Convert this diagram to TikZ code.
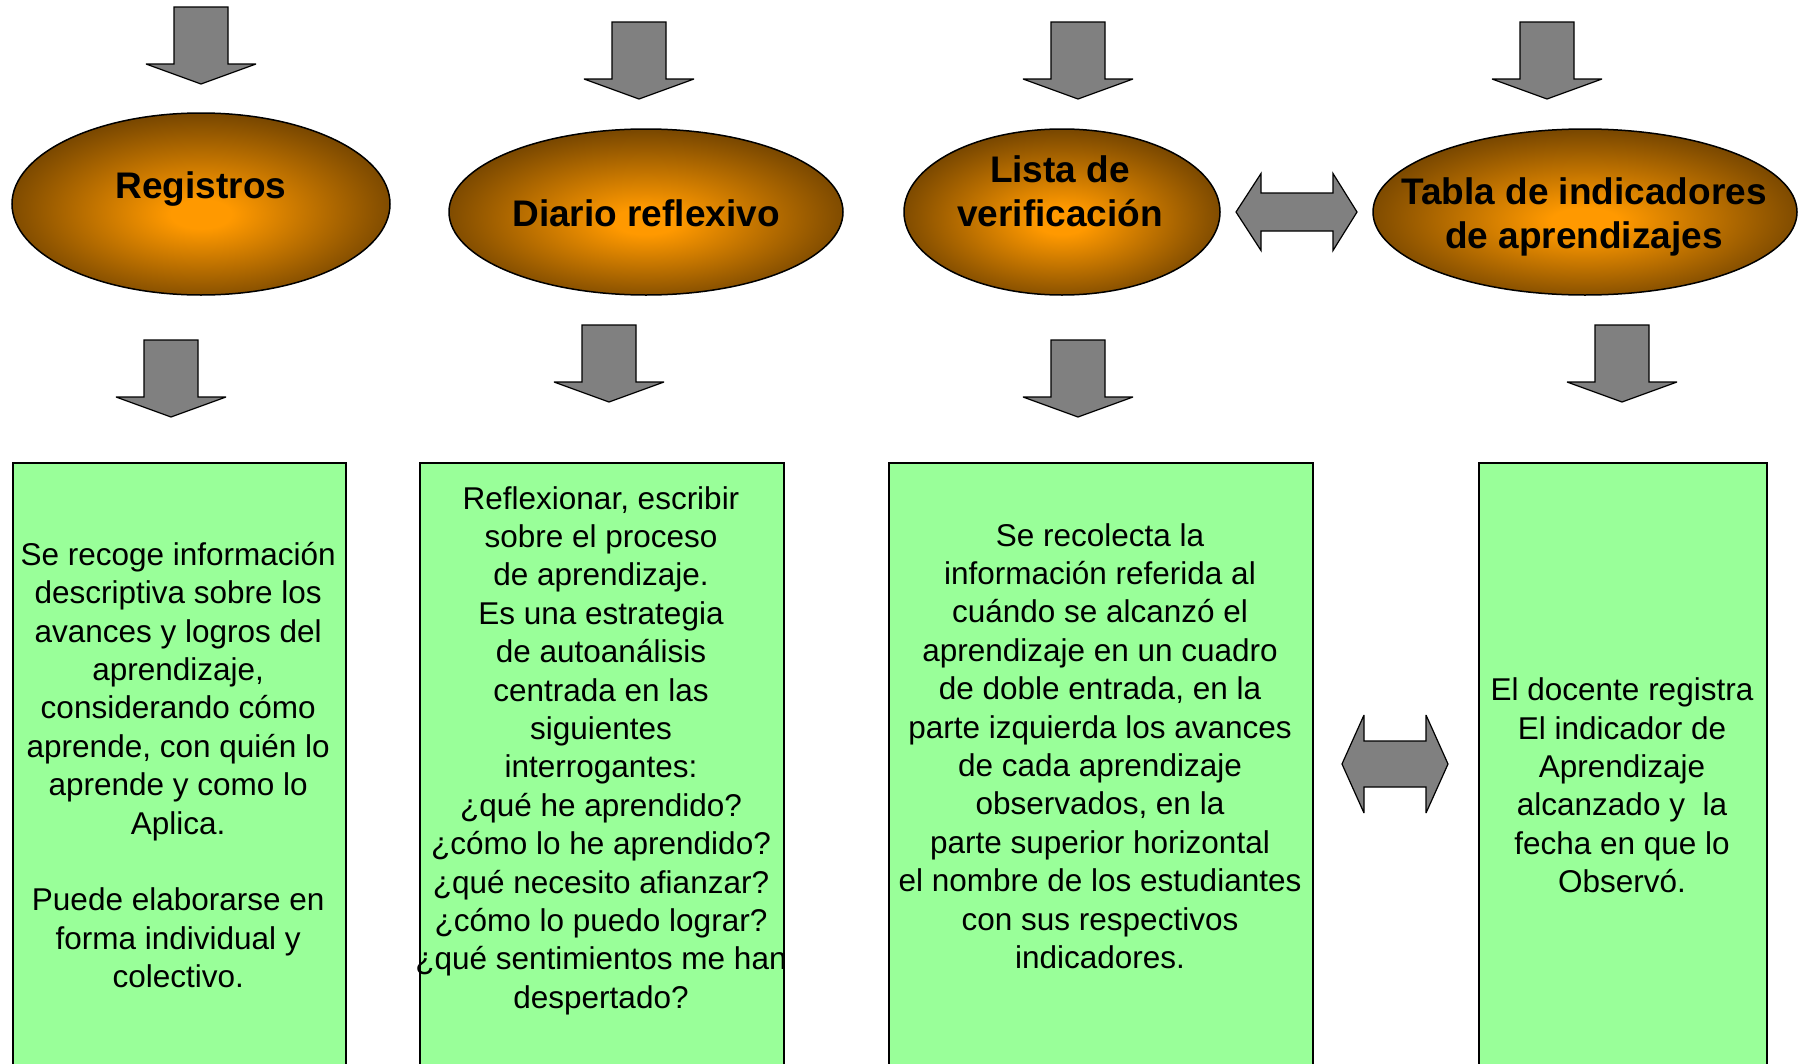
\documentclass[tikz,border=0pt]{standalone}
\usepackage{fontspec}
\setmainfont{Liberation Sans}
\usetikzlibrary{shapes.geometric}
\definecolor{orng}{RGB}{255,153,0}
\definecolor{brn}{RGB}{122,72,0}
\definecolor{boxgreen}{RGB}{153,255,153}
\definecolor{arrgray}{RGB}{128,128,128}
\pgfdeclareradialshading{orb}{\pgfpoint{0bp}{-3bp}}{color(0bp)=(orng); color(4bp)=(orng); color(26bp)=(brn); color(50bp)=(brn)}
\newcommand{\downblk}[2]{%
  \draw[blk] ({#1-27},{#2}) -- ({#1+27},{#2}) -- ({#1+27},{#2+57}) -- ({#1+55},{#2+57}) -- ({#1},{#2+77}) -- ({#1-55},{#2+57}) -- ({#1-27},{#2+57}) -- cycle;}
\newcommand{\dblblk}[7]{%
  \draw[blk] ({#1},{#5}) -- ({#2},{#5-#6}) -- ({#2},{#5-#7}) -- ({#3},{#5-#7}) -- ({#3},{#5-#6}) -- ({#4},{#5}) -- ({#3},{#5+#6}) -- ({#3},{#5+#7}) -- ({#2},{#5+#7}) -- ({#2},{#5+#6}) -- cycle;}
\begin{document}
\begin{tikzpicture}[x=1pt,y=-1pt,
  oval/.style={ellipse, draw=black, line width=1.5pt, shading=orb, inner sep=0pt},
  ttl/.style={font=\fontsize{37}{43.7}\selectfont\bfseries, align=center, inner sep=0pt},
  box/.style={draw=black, line width=2pt, fill=boxgreen, anchor=north west, inner sep=0pt},
  body/.style={font=\fontsize{31.5}{38.4}\selectfont, align=center, inner sep=0pt},
  blk/.style={draw=black, line width=1.2pt, fill=arrgray, line join=miter, miter limit=4}]
\useasboundingbox (0,0) rectangle (1802,1063);

% top arrows
\downblk{201}{7}
\downblk{639}{22}
\downblk{1078}{22}
\downblk{1547}{22}

% ellipses
\node[oval, minimum width=378, minimum height=182] (e1) at (201,204) {};
\node[oval, minimum width=394, minimum height=166] (e2) at (646,212) {};
\node[oval, minimum width=316, minimum height=166] (e3) at (1062,212) {};
\node[oval, minimum width=424, minimum height=166] (e4) at (1585,212) {};

\node[ttl] (t1) at (201,189.5) {Registros};
\node[ttl] (t2) at (646,213) {Diario reflexivo};
\node[ttl] (t3) at (1060,191) {Lista de\\verificación};
\node[ttl] (t4) at (1584,217) {Tabla de indicadores\\de aprendizajes};

% double arrows
\dblblk{1236}{1261}{1333}{1357}{212}{38.5}{19}
\dblblk{1342}{1364}{1426}{1448}{764}{49}{23}

% bottom arrows
\downblk{171}{340}
\downblk{609}{325}
\downblk{1078}{340}
\downblk{1622}{325}

% boxes
\node[box, minimum width=333.5, minimum height=640] (b1) at (11.5,462) {};
\node[box, minimum width=364, minimum height=640] (b2) at (419,462) {};
\node[box, minimum width=424, minimum height=640] (b3) at (888,462) {};
\node[box, minimum width=288, minimum height=640] (b4) at (1478,462) {};

\node[body] (x1) at (178.2,765) {Se recoge información\\descriptiva sobre los\\avances y logros del\\aprendizaje,\\considerando cómo\\aprende, con quién lo\\aprende y como lo\\Aplica.\\[38.4pt]Puede elaborarse en\\forma individual y\\colectivo.};
\node[body] (x2) at (601,750.5) {Reflexionar, escribir\\sobre el proceso\\de aprendizaje.\\Es una estrategia\\de autoanálisis\\centrada en las\\siguientes\\interrogantes:\\¿qué he aprendido?\\¿cómo lo he aprendido?\\¿qué necesito afianzar?\\¿cómo lo puedo lograr?\\¿qué sentimientos me han\\despertado?};
\node[body] (x3) at (1100,746) {Se recolecta la\\información referida al\\cuándo se alcanzó el\\aprendizaje en un cuadro\\de doble entrada, en la\\parte izquierda los avances\\de cada aprendizaje\\observados, en la\\parte superior horizontal\\el nombre de los estudiantes\\con sus respectivos\\indicadores.};
\node[body] (x4) at (1622,785.5) {El docente registra\\El indicador de\\Aprendizaje\\alcanzado y\ \ la\\fecha en que lo\\Observó.};
\end{tikzpicture}
\end{document}
